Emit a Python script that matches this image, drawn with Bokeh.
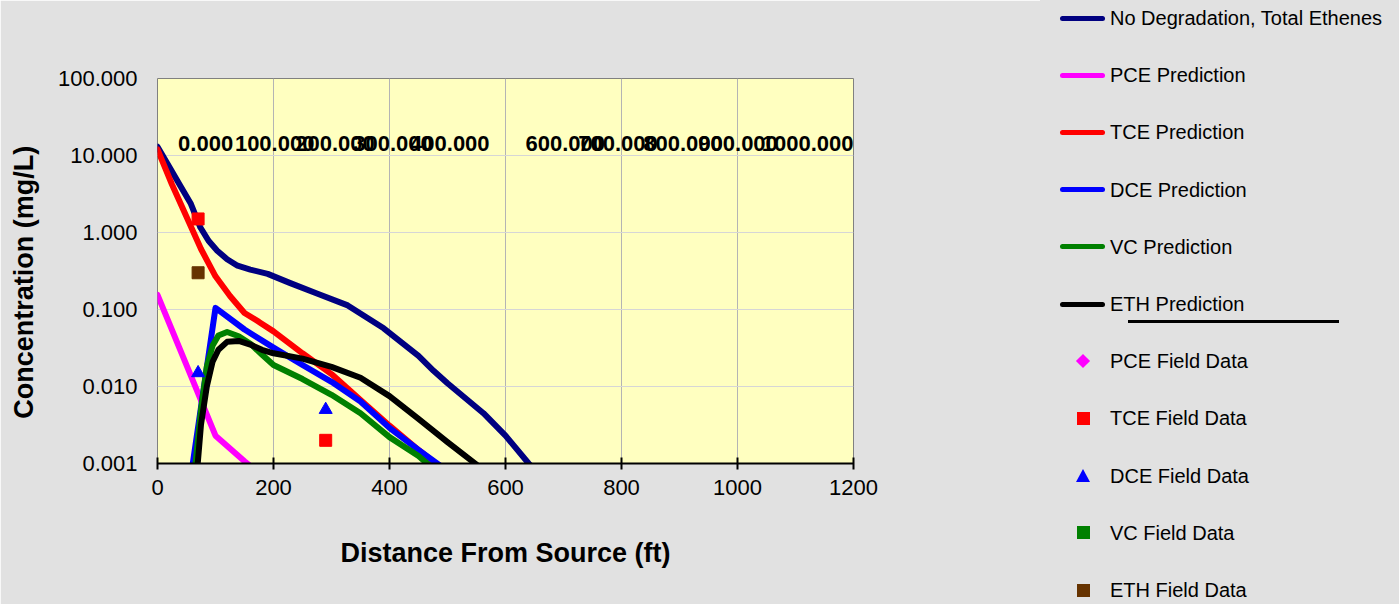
from bokeh.plotting import figure
from bokeh.layouts import row
from bokeh.models import FixedTicker, PrintfTickFormatter, Range1d, Div
from bokeh.core.properties import value
from bokeh.embed import file_html
from bokeh.resources import INLINE

# ---- model predictions: distance from source (ft) vs concentration (mg/L) ----
nodeg_x = [0, 20, 40, 57, 74, 88, 103, 120, 138, 160, 190, 229, 276, 328, 390, 450, 476, 500,
           562, 600, 640, 660]
nodeg_y = [13, 7.2, 3.95, 2.4, 1.16, 0.78, 0.58, 0.45, 0.37, 0.33, 0.29, 0.22, 0.16, 0.113, 0.057,
           0.025, 0.016, 0.011, 0.0045, 0.0023, 0.001, 0.0007]

pce_x = [0, 50, 100, 150, 170]
pce_y = [0.155, 0.019, 0.0023, 0.00107, 0.0008]

tce_x = [0, 25, 50, 75, 100, 125, 150, 175, 200, 250, 300, 350, 400, 450, 480, 500]
tce_y = [12, 4.2, 1.6, 0.61, 0.27, 0.15, 0.09, 0.069, 0.052, 0.027, 0.0145, 0.0067, 0.0031,
         0.0015, 0.001, 0.0007]

dce_x = [55, 100, 150, 200, 250, 300, 350, 400, 450, 500]
dce_y = [0.0005, 0.105, 0.055, 0.032, 0.019, 0.0115, 0.0064, 0.0029, 0.0015, 0.0008]

vc_x = [60, 65, 75, 85, 95, 105, 120, 140, 160, 180, 200, 250, 300, 350, 400, 450, 480]
vc_y = [0.0004, 0.0009, 0.005, 0.018, 0.034, 0.046, 0.051, 0.045, 0.036, 0.026, 0.019, 0.0125,
        0.0078, 0.0045, 0.0022, 0.00125, 0.0008]

eth_x = [66, 75, 85, 95, 105, 120, 140, 160, 180, 200, 250, 300, 350, 400, 450, 500, 550, 570]
eth_y = [0.0005, 0.0032, 0.010, 0.021, 0.030, 0.038, 0.039, 0.035, 0.030, 0.027, 0.023, 0.018,
         0.013, 0.0075, 0.0038, 0.0019, 0.00097, 0.0006]

# ---- field measurements ----
pce_field_x, pce_field_y = [], []
tce_field_x, tce_field_y = [70, 290], [1.5, 0.002]
dce_field_x, dce_field_y = [70, 290], [0.015, 0.005]
vc_field_x, vc_field_y = [], []
eth_field_x, eth_field_y = [70], [0.3]

# ---- value labels along the top of the chart ----
label_text = ["0.000", "100.000", "200.000", "300.000", "400.000",
              "600.000", "700.000", "800.000", "900.000", "1000.000"]
label_dist = [83, 202, 306, 406, 504, 703, 794, 906, 1001, 1121]
label_conc = 14.3

x_ticks = [0, 200, 400, 600, 800, 1000, 1200]
y_ticks = [0.001, 0.01, 0.1, 1, 10, 100]

FONT = "Liberation Sans"
BG = "#E1E1E1"

curves = [
    ("No Degradation, Total Ethenes", nodeg_x, nodeg_y, "#000080"),
    ("PCE Prediction", pce_x, pce_y, "#FF00FF"),
    ("TCE Prediction", tce_x, tce_y, "#FF0000"),
    ("DCE Prediction", dce_x, dce_y, "#0000FF"),
    ("VC Prediction", vc_x, vc_y, "#008000"),
    ("ETH Prediction", eth_x, eth_y, "#000000"),
]
points = [
    ("PCE Field Data", pce_field_x, pce_field_y, "diamond", 15, "#FF00FF"),
    ("TCE Field Data", tce_field_x, tce_field_y, "square", 12, "#FF0000"),
    ("DCE Field Data", dce_field_x, dce_field_y, "triangle", 13, "#0000FF"),
    ("VC Field Data", vc_field_x, vc_field_y, "square", 12, "#008000"),
    ("ETH Field Data", eth_field_x, eth_field_y, "square", 12, "#663300"),
]
LINE = dict(line_width=6, line_join="round", line_cap="round")

# ================= chart =================
p = figure(width=1040, height=604, output_backend="svg", toolbar_location=None,
           y_axis_type="log", x_range=Range1d(0, 1200), y_range=Range1d(0.001, 100),
           min_border_left=157, min_border_right=187, min_border_top=78, min_border_bottom=141)

p.background_fill_color = "#FFFFC0"
p.border_fill_color = BG
p.outline_line_color = "#808080"
p.outline_line_width = 1

p.xaxis.ticker = FixedTicker(ticks=x_ticks, minor_ticks=[])
p.yaxis.ticker = FixedTicker(ticks=y_ticks, minor_ticks=[])
p.yaxis.formatter = PrintfTickFormatter(format="%.3f")

p.xaxis.axis_label = "Distance From Source (ft)"
# trailing no-break spaces nudge the rotated title slightly downward
p.yaxis.axis_label = "Concentration (mg/L)\u00a0\u00a0\u00a0"
for ax in (p.xaxis, p.yaxis):
    ax.axis_label_text_font = FONT
    ax.axis_label_text_font_style = "bold"
    ax.axis_label_text_font_size = "27px"
    ax.axis_label_text_color = "black"
    ax.major_label_text_font = FONT
    ax.major_label_text_font_size = "22px"
    ax.major_label_text_color = "black"
    ax.minor_tick_line_color = None

p.xaxis.axis_line_color = "black"
p.xaxis.axis_line_width = 2
p.xaxis.major_tick_line_color = "black"
p.xaxis.major_tick_line_width = 2
p.xaxis.major_tick_in = 6
p.xaxis.major_tick_out = 6
p.xaxis.major_label_standoff = 10
p.xaxis.axis_label_standoff = 40

p.yaxis.axis_line_color = None
p.yaxis.major_tick_line_color = None
p.yaxis.major_tick_out = 0
p.yaxis.major_tick_in = 0
p.yaxis.major_label_standoff = 20
p.yaxis.axis_label_standoff = 16

p.xgrid.grid_line_color = "#B4B4B4"
p.ygrid.grid_line_color = "#D6D6D6"

for name, xs, ys, color in curves:
    p.line(xs, ys, line_color=color, **LINE)
for name, xs, ys, marker, size, color in points:
    p.scatter(xs, ys, marker=marker, size=size, color=color)

p.text(x=label_dist, y=[label_conc] * len(label_dist), text=label_text,
       text_font=value(FONT), text_font_style="bold", text_font_size="22px",
       text_align="center", text_baseline="middle", text_color="black")

# ================= key (HTML panel to the right of the chart) =================
KEY_W, KEY_H = 359, 604
first_y, step = 18, 57.2
sw_left, sw_w, mk_cx, txt_left = 20, 45, 43, 70


def abs_div(style, inner=""):
    return f'<div style="position:absolute;{style}">{inner}</div>'


def key_label(cy, name):
    return abs_div(f"left:{txt_left}px;top:{cy:.1f}px;transform:translateY(-50%);"
                   f"font-family:'{FONT}';font-size:20px;line-height:22px;color:#000;"
                   f"white-space:nowrap", name)


parts = []
n = 0
for name, xs, ys, color in curves:
    cy = first_y + n * step
    parts.append(abs_div(f"left:{sw_left}px;top:{cy - 2.5:.1f}px;width:{sw_w}px;height:5px;"
                         f"background:{color};border-radius:3px"))
    parts.append(key_label(cy, name))
    n += 1
for name, xs, ys, marker, size, color in points:
    cy = first_y + n * step
    if marker == "square":
        s = 13
        parts.append(abs_div(f"left:{mk_cx - s / 2:.1f}px;top:{cy - s / 2:.1f}px;width:{s}px;"
                             f"height:{s}px;background:{color}"))
    elif marker == "diamond":
        s = 10
        parts.append(abs_div(f"left:{mk_cx - s / 2:.1f}px;top:{cy - s / 2:.1f}px;width:{s}px;"
                             f"height:{s}px;background:{color};transform:rotate(45deg)"))
    else:
        svg = (f'<svg width="14" height="13" viewBox="0 0 14 13">'
               f'<polygon points="7,0 14,13 0,13" fill="{color}"/></svg>')
        parts.append(abs_div(f"left:{mk_cx - 7}px;top:{cy - 7:.1f}px;width:14px;height:13px;"
                             f"line-height:0", svg))
    parts.append(key_label(cy, name))
    n += 1

# short rule beneath the prediction entries
parts.append(abs_div("left:88px;top:319.5px;width:211px;height:3px;background:#000"))

key_html = (f'<div style="position:relative;width:{KEY_W}px;height:{KEY_H}px;'
            f'background:{BG};overflow:hidden">' + "".join(parts) + "</div>")
key = Div(text=key_html, width=KEY_W, height=KEY_H, margin=(0, 0, 0, 0))

open("out.html", "w").write(file_html(row(p, key, spacing=0), INLINE))
